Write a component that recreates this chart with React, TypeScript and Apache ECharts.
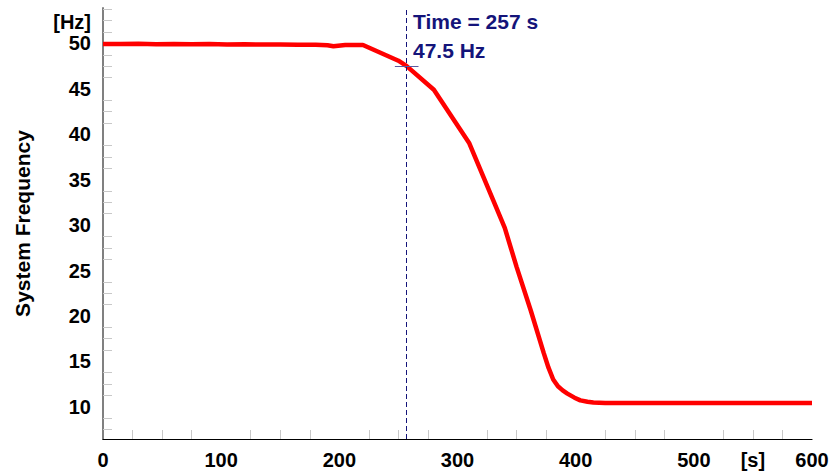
import React, { useEffect, useRef } from "react";
import * as echarts from "echarts";

// Time in seconds and system frequency in Hz
const timeS = [
  0, 15, 30, 45, 60, 75, 90, 105, 120, 135, 150, 165, 180, 190, 195, 205, 220,
  250, 257, 280, 310, 330, 340, 350, 362, 373, 377, 381, 385, 389, 393, 399,
  404, 410, 415, 425, 432, 470, 520, 600,
];
const freqHz = [
  49.95, 49.93, 49.96, 49.92, 49.95, 49.9, 49.93, 49.88, 49.9, 49.87, 49.88,
  49.85, 49.85, 49.8, 49.68, 49.83, 49.83, 48.1, 47.5, 44.9, 39.0, 32.8, 29.7,
  25.4, 20.6, 15.9, 14.3, 13.0, 12.25, 11.8, 11.45, 11.0, 10.7, 10.55, 10.47,
  10.42, 10.4, 10.4, 10.4, 10.4,
];

// Cursor annotation
const cursorTime = 257;
const cursorFreq = 47.5;

// Axis labels / ticks
const xLabelValues = [0, 100, 200, 300, 400, 500, 550, 600];
const xUnitValue = 550;
const xUnitLabel = "[s]";
const xMinorStep = 25;
const yLabelValues = [10, 15, 20, 25, 30, 35, 40, 45, 50, 52.4];
const yUnitValue = 52.4;
const yUnitLabel = "[Hz]";
const yMinorStep = 1.25;
const yMajorStep = 5;
const xMajorStep = 100;
const xMin = 0;
const xMax = 600;
const yMin = 6.45;
const yMax = 53.9;

function minorTicks(min: number, max: number, step: number, major: number) {
  const out: number[] = [];
  const start = Math.ceil(min / step - 1e-9);
  const end = Math.floor(max / step + 1e-9);
  for (let i = start; i <= end; i++) {
    const v = +(i * step).toFixed(4);
    const r = v / major;
    if (Math.abs(r - Math.round(r)) < 1e-6) continue;
    if (v <= min || v >= max) continue;
    out.push(v);
  }
  return out;
}

export default function App() {
  const ref = useRef<HTMLDivElement>(null);
  useEffect(() => {
    if (!ref.current) return;
    const chart = echarts.init(ref.current, null, { renderer: "svg" });
    const font = "Liberation Sans, Arial, sans-serif";
    const navy = "#14147a";
    chart.setOption({
      animation: false,
      backgroundColor: "#ffffff",
      grid: { left: 103, right: 21, top: 8, bottom: 34, containLabel: false },
      xAxis: {
        type: "value",
        min: xMin,
        max: xMax,
        interval: xMajorStep,
        axisLine: { show: true, lineStyle: { color: "#000000", width: 1.2 } },
        axisTick: {
          show: true,
          inside: true,
          length: 9,
          customValues: minorTicks(xMin, xMax, xMinorStep, xMajorStep),
          lineStyle: { color: "#c8c8c8", width: 1 },
        },
        splitLine: { show: false },
        axisLabel: {
          customValues: xLabelValues,
          formatter: (v: number) => (v === xUnitValue ? xUnitLabel : String(v)),
          color: "#000000",
          fontFamily: font,
          fontWeight: "bold",
          fontSize: 20,
          margin: 11,
          showMinLabel: true,
          showMaxLabel: true,
        },
      },
      yAxis: {
        type: "value",
        min: yMin,
        max: yMax,
        name: "System Frequency",
        nameLocation: "middle",
        nameGap: 70,
        nameTextStyle: {
          color: "#000000",
          fontFamily: font,
          fontWeight: "bold",
          fontSize: 21,
        },
        axisLine: { show: true, lineStyle: { color: "#808080", width: 2 } },
        axisTick: {
          show: true,
          inside: true,
          length: 9,
          customValues: minorTicks(yMin, yMax, yMinorStep, yMajorStep),
          lineStyle: { color: "#c8c8c8", width: 1 },
        },
        splitLine: { show: false },
        axisLabel: {
          customValues: yLabelValues,
          formatter: (v: number) => (v === yUnitValue ? yUnitLabel : String(v)),
          color: "#000000",
          fontFamily: font,
          fontWeight: "bold",
          fontSize: 20,
          margin: 12,
        },
      },
      series: [
        {
          type: "line",
          data: timeS.map((t, i) => [t, freqHz[i]]),
          showSymbol: false,
          symbol: "none",
          lineStyle: { color: "#ff0000", width: 4.5 },
          z: 2,
          markLine: {
            silent: true,
            symbol: "none",
            label: { show: false },
            z: 5,
            data: [
              {
                xAxis: cursorTime,
                lineStyle: { color: navy, width: 1, type: [5, 3] },
              },
              [
                { coord: [cursorTime - 10, cursorFreq], lineStyle: { color: "#5a5aa0", width: 1, type: "solid" } },
                { coord: [cursorTime + 10, cursorFreq] },
              ],
            ],
          },
        },
      ],
      graphic: [
        {
          type: "text",
          left: 413,
          top: 11,
          style: {
            text: `Time = ${cursorTime} s`,
            fill: navy,
            font: `bold 21px ${font}`,
          },
        },
        {
          type: "text",
          left: 413,
          top: 40,
          style: {
            text: `${cursorFreq} Hz`,
            fill: navy,
            font: `bold 21px ${font}`,
          },
        },
      ],
    });
    return () => chart.dispose();
  }, []);
  return (
    <div
      ref={ref}
      style={{ position: "absolute", left: 0, top: 0, width: 833, height: 473 }}
    />
  );
}
